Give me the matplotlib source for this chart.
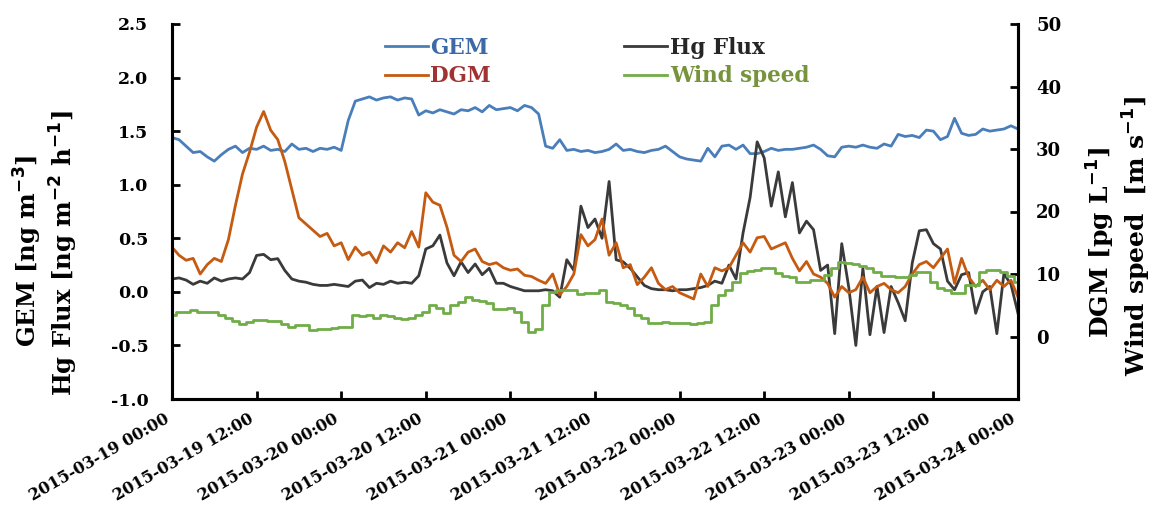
import numpy as np
import pandas as pd
import matplotlib
matplotlib.use("Agg")
import matplotlib.pyplot as plt
import matplotlib.dates as mdates

plt.rcParams['font.family'] = ['DejaVu Serif']
plt.rcParams['font.weight'] = 'bold'

# hourly values, 2015-03-19 00:00 .. 2015-03-24 00:00
times = pd.date_range("2015-03-19 00:00", "2015-03-24 00:00", freq="h")

gem = [1.44, 1.42, 1.36, 1.30, 1.31, 1.26, 1.22, 1.28, 1.33, 1.36,
       1.30, 1.34, 1.33, 1.36, 1.32, 1.33, 1.31, 1.38, 1.33, 1.34,
       1.31, 1.34, 1.33, 1.35, 1.32, 1.60, 1.78, 1.80, 1.82, 1.79,
       1.81, 1.82, 1.79, 1.81, 1.80, 1.65, 1.69, 1.67, 1.70, 1.68,
       1.66, 1.70, 1.69, 1.72, 1.68, 1.74, 1.70, 1.71, 1.72, 1.69,
       1.74, 1.72, 1.66, 1.36, 1.34, 1.42, 1.32, 1.33, 1.31, 1.32,
       1.30, 1.31, 1.33, 1.38, 1.32, 1.33, 1.31, 1.30, 1.32, 1.33,
       1.36, 1.31, 1.26, 1.24, 1.23, 1.22, 1.34, 1.26, 1.36, 1.37,
       1.33, 1.37, 1.29, 1.29, 1.31, 1.34, 1.32, 1.33, 1.33, 1.34,
       1.35, 1.37, 1.33, 1.27, 1.26, 1.35, 1.36, 1.35, 1.37, 1.35,
       1.34, 1.38, 1.36, 1.47, 1.45, 1.46, 1.44, 1.51, 1.50, 1.42,
       1.45, 1.62, 1.48, 1.46, 1.47, 1.52, 1.50, 1.51, 1.52, 1.55,
       1.52]

hg_flux = [0.12, 0.13, 0.11, 0.07, 0.10, 0.08, 0.13, 0.10, 0.12, 0.13,
           0.12, 0.18, 0.34, 0.35, 0.30, 0.31, 0.20, 0.12, 0.10, 0.09,
           0.07, 0.06, 0.06, 0.07, 0.06, 0.05, 0.10, 0.11, 0.04, 0.08,
           0.07, 0.10, 0.08, 0.09, 0.08, 0.15, 0.40, 0.43, 0.53, 0.27,
           0.15, 0.28, 0.18, 0.26, 0.16, 0.22, 0.08, 0.08, 0.05, 0.03,
           0.01, 0.01, 0.01, 0.02, 0.01, -0.05, 0.30, 0.20, 0.80, 0.60,
           0.68, 0.50, 1.03, 0.30, 0.28, 0.22, 0.14, 0.06, 0.03, 0.02,
           0.02, 0.01, 0.02, 0.02, 0.03, 0.04, 0.06, 0.10, 0.08, 0.25,
           0.12, 0.55, 0.88, 1.40, 1.25, 0.80, 1.12, 0.70, 1.02, 0.55,
           0.66, 0.58, 0.20, 0.25, -0.39, 0.45, 0.04, -0.50, 0.22, -0.40,
           0.05, -0.38, 0.05, -0.10, -0.27, 0.27, 0.57, 0.58, 0.45, 0.40,
           0.10, 0.02, 0.16, 0.18, -0.20, 0.00, 0.05, -0.39, 0.17, 0.07,
           -0.20]

dgm = [14.3, 13.0, 12.2, 12.5, 10.0, 11.5, 12.5, 12.0, 15.5, 21.0,
       26.0, 29.5, 33.5, 36.0, 33.0, 31.5, 28.0, 23.5, 19.0, 18.0,
       17.0, 16.0, 16.5, 14.5, 15.0, 12.3, 14.3, 13.0, 13.5, 11.8,
       14.5, 13.5, 15.0, 14.2, 16.8, 14.3, 23.0, 21.5, 21.0, 17.5,
       13.0, 12.0, 13.5, 14.0, 12.0, 11.5, 11.8, 11.0, 10.6, 10.8,
       9.8, 9.6, 9.0, 8.5, 10.0, 6.7, 8.0, 10.0, 16.3, 14.5,
       15.5, 18.8, 13.0, 15.0, 11.0, 11.5, 8.3, 9.5, 11.0, 8.5,
       7.5, 8.0, 7.0, 6.5, 6.0, 10.0, 8.0, 11.0, 10.5, 11.0,
       13.0, 15.0, 13.5, 15.8, 16.0, 14.0, 14.5, 15.0, 12.5, 10.5,
       12.0, 10.0, 9.5, 8.5, 6.3, 8.0, 7.0, 7.5, 9.5, 7.0,
       8.0, 8.5, 7.5, 7.0, 8.0, 10.0, 11.5, 12.0, 11.0, 12.5,
       14.0, 8.5, 12.5, 9.5, 8.0, 9.0, 7.5, 9.0, 8.0, 9.0,
       6.3]

wind = [3.5, 4.0, 4.0, 4.3, 3.9, 3.9, 4.0, 3.5, 3.0, 2.5,
        2.0, 2.3, 2.6, 2.6, 2.5, 2.5, 2.0, 1.5, 1.8, 1.8,
        1.1, 1.2, 1.2, 1.3, 1.5, 1.5, 3.5, 3.3, 3.5, 3.0,
        3.5, 3.3, 3.0, 2.8, 3.0, 3.5, 4.0, 5.1, 4.5, 3.8,
        5.0, 5.6, 6.3, 5.8, 5.7, 5.4, 4.4, 4.4, 4.5, 4.0,
        2.4, 0.8, 1.2, 5.0, 7.2, 7.4, 7.4, 7.5, 6.8, 7.0,
        7.0, 7.5, 5.6, 5.4, 5.1, 4.5, 3.5, 3.0, 2.2, 2.2,
        2.4, 2.2, 2.2, 2.2, 2.0, 2.2, 2.4, 5.1, 6.7, 7.5,
        8.8, 10.2, 10.5, 10.7, 11.0, 11.0, 10.2, 9.7, 9.5, 8.8,
        8.8, 9.0, 9.0, 9.9, 11.0, 12.0, 11.8, 11.6, 11.3, 11.0,
        10.4, 9.7, 9.7, 9.5, 9.5, 9.8, 10.4, 10.4, 8.8, 7.8,
        7.5, 7.0, 7.0, 8.3, 8.3, 10.4, 10.6, 10.6, 10.4, 9.7,
        8.8]

fig = plt.figure(figsize=(11.53, 5.12), dpi=100)
ax = fig.add_axes([172/1153, 1 - 399/512, 846/1153, 375/512])
ax2 = ax.twinx()

l_gem, = ax.plot(times, gem, color='#4A7EBB', lw=2.0, label='GEM')
l_hg, = ax.plot(times, hg_flux, color='#3A3A3A', lw=2.0, label='Hg Flux')
l_dgm, = ax2.plot(times, dgm, color='#C55A11', lw=2.0, label='DGM')
l_wind, = ax2.plot(times, wind, color='#70AD47', lw=2.0, label='Wind speed',
                   drawstyle='steps-mid')

ax.set_ylim(-1.0, 2.5)
ax.set_yticks(np.arange(-1.0, 2.51, 0.5))
ax.yaxis.set_major_formatter(matplotlib.ticker.FormatStrFormatter('%.1f'))
ax2.set_ylim(-10, 50)
ax2.set_yticks(np.arange(0, 51, 10))
ax.set_xlim(times[0], times[-1])
ax.xaxis.set_major_locator(mdates.HourLocator(byhour=[0, 12]))
ax.xaxis.set_major_formatter(mdates.DateFormatter('%Y-%m-%d %H:%M'))

for a in (ax, ax2):
    a.spines['top'].set_visible(False)
    for s in a.spines.values():
        s.set_linewidth(2.2)
ax.tick_params(axis='both', direction='in', length=6, width=2, labelsize=12.5)
ax.tick_params(axis='y', pad=17)
ax.tick_params(axis='x', pad=8, labelsize=11.5)
ax2.tick_params(axis='y', direction='in', length=6, width=2, labelsize=13, pad=13)
plt.setp(ax.get_xticklabels(), rotation=30, ha='right')

fig.text(28/1153, 1 - 251/512, 'GEM [ng m$^{\\mathbf{-3}}$]', rotation=90,
         ha='center', va='center', fontsize=17.5, fontweight='bold')
fig.text(64/1153, 1 - 253/512, 'Hg Flux [ng m$^{\\mathbf{-2}}$ h$^{\\mathbf{-1}}$]', rotation=90,
         ha='center', va='center', fontsize=17.5, fontweight='bold')
fig.text(1101/1153, 1 - 242/512, 'DGM [pg L$^{\\mathbf{-1}}$]', rotation=90,
         ha='center', va='center', fontsize=18, fontweight='bold')
fig.text(1137/1153, 1 - 236/512, 'Wind speed  [m s$^{\\mathbf{-1}}$]', rotation=90,
         ha='center', va='center', fontsize=18, fontweight='bold')

leg = ax2.legend([l_gem, l_dgm, l_hg, l_wind], ['GEM', 'DGM', 'Hg Flux', 'Wind speed'],
                 ncol=2, frameon=False, loc='upper left',
                 bbox_to_anchor=(385/1153, 1 - 37/512), bbox_transform=fig.transFigure,
                 fontsize=15.5, handlelength=2.0, handletextpad=0.1,
                 columnspacing=6.2, labelspacing=0.3, borderaxespad=0, borderpad=0)
for txt, c in zip(leg.get_texts(), ['#3C6AA6', '#A03232', '#262626', '#77933C']):
    txt.set_color(c)
    txt.set_fontweight('bold')

fig.savefig('out.png', dpi=100)
